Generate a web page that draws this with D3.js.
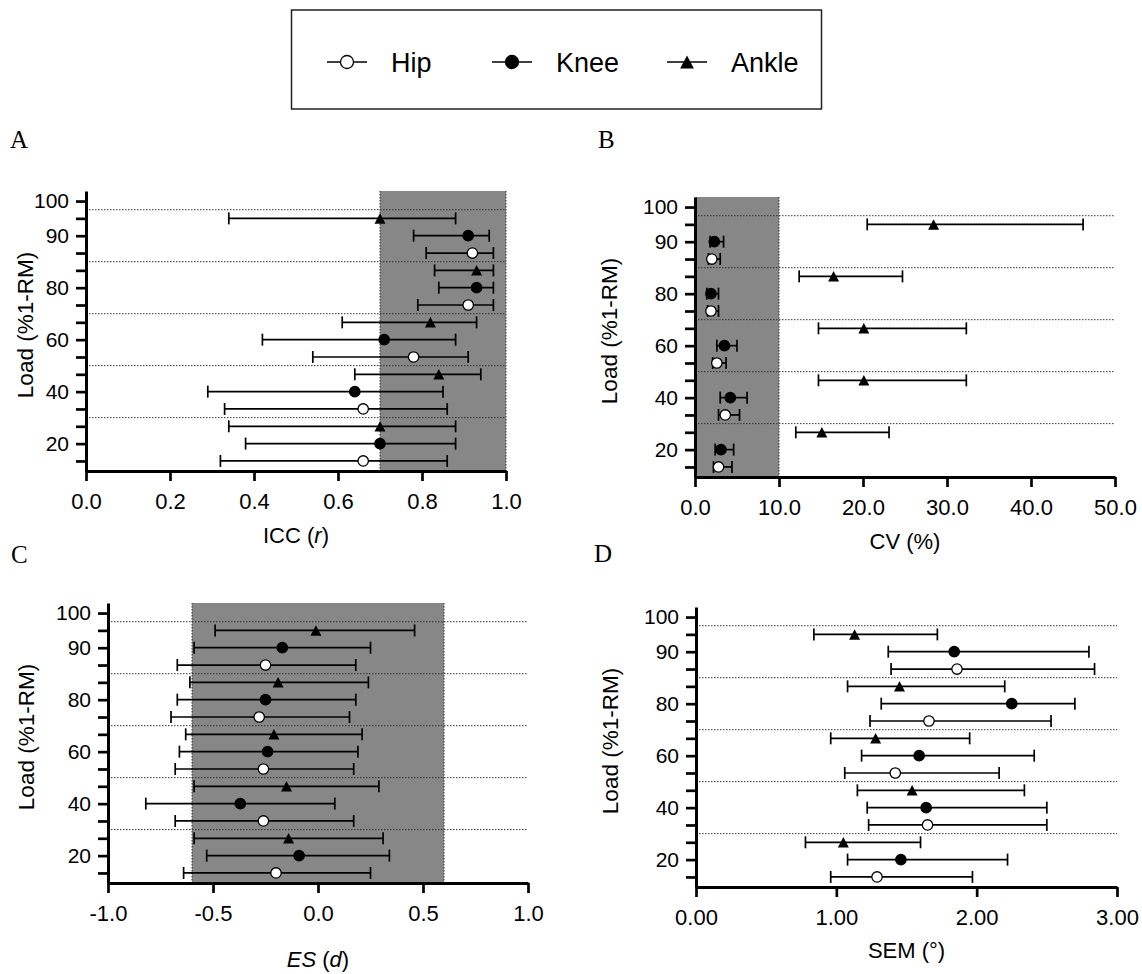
<!DOCTYPE html>
<html>
<head>
<meta charset="utf-8">
<script src="https://cdn.jsdelivr.net/npm/d3@7"></script>
<style>
  body { margin: 0; background: #fff; }
  svg { display: block; }
  text { font-family: "Liberation Sans", Arial, sans-serif; fill: #000; }
</style>
</head>
<body>
<script>
// load levels (%1-RM), top to bottom
var loads = [90, 80, 60, 40, 20];
var yLabels = ["100", "90", "80", "60", "40", "20"];
var joints = ["Hip", "Knee", "Ankle"];

// each entry: [value, lower, upper]
var iccAnkle = [[0.70,0.34,0.88],[0.93,0.83,0.97],[0.82,0.61,0.93],[0.84,0.64,0.94],[0.70,0.34,0.88]];
var iccKnee  = [[0.91,0.78,0.96],[0.93,0.84,0.97],[0.71,0.42,0.88],[0.64,0.29,0.85],[0.70,0.38,0.88]];
var iccHip   = [[0.92,0.81,0.97],[0.91,0.79,0.97],[0.78,0.54,0.91],[0.66,0.33,0.86],[0.66,0.32,0.86]];

var cvAnkle = [[28.4,20.5,46.2],[16.5,12.4,24.7],[20.1,14.7,32.3],[20.1,14.7,32.3],[15.1,12.0,23.1]];
var cvKnee  = [[2.3,1.8,3.4],[1.9,1.4,2.8],[3.5,2.6,5.0],[4.2,3.0,6.2],[3.1,2.4,4.6]];
var cvHip   = [[2.0,1.6,3.0],[1.9,1.5,2.8],[2.6,2.1,3.7],[3.6,2.8,5.3],[2.8,2.2,4.4]];

var esAnkle = [[-0.01,-0.49,0.46],[-0.19,-0.61,0.24],[-0.21,-0.63,0.21],[-0.15,-0.59,0.29],[-0.14,-0.59,0.31]];
var esKnee  = [[-0.17,-0.59,0.25],[-0.25,-0.67,0.18],[-0.24,-0.66,0.19],[-0.37,-0.82,0.08],[-0.09,-0.53,0.34]];
var esHip   = [[-0.25,-0.67,0.18],[-0.28,-0.70,0.15],[-0.26,-0.68,0.17],[-0.26,-0.68,0.17],[-0.20,-0.64,0.25]];

var semAnkle = [[1.13,0.84,1.72],[1.45,1.08,2.20],[1.28,0.96,1.95],[1.54,1.15,2.34],[1.05,0.78,1.60]];
var semKnee  = [[1.84,1.37,2.80],[2.25,1.32,2.70],[1.59,1.18,2.41],[1.64,1.22,2.50],[1.46,1.08,2.22]];
var semHip   = [[1.86,1.39,2.84],[1.66,1.24,2.53],[1.42,1.06,2.16],[1.65,1.23,2.50],[1.29,0.96,1.97]];

var svg = d3.select("body").append("svg")
  .attr("width", 1142)
  .attr("height", 974);

function drawMarker(g, joint, x, y, k) {
  k = k || 1;
  if (joint == "Ankle") {
    var w = 11 * k, h = 10.5 * k;
    g.append("path")
      .attr("d", "M0," + (-h / 2) + "L" + (w / 2) + "," + (h / 2) + "L" + (-w / 2) + "," + (h / 2) + "Z")
      .attr("transform", "translate(" + x + "," + y + ")")
      .style("fill", "#000");
  } else {
    g.append("circle")
      .attr("cx", x).attr("cy", y).attr("r", 5.2 * k)
      .style("fill", joint == "Hip" ? "#fff" : "#000")
      .style("stroke", "#000").style("stroke-width", 1.3);
  }
}

//LEGEND
var legend = svg.append("g");
legend.append("rect")
  .attr("x", 291.5).attr("y", 10).attr("width", 530).attr("height", 99)
  .style("fill", "none").style("stroke", "#222").style("stroke-width", 1.5);

var legendItems = [
  {name: "Hip", x: 327},
  {name: "Knee", x: 492},
  {name: "Ankle", x: 667}
];
legendItems.forEach(function(it){
  var g = legend.append("g").attr("transform", "translate(" + it.x + ",62)");
  g.append("line").attr("x1", 0).attr("x2", 40).attr("y1", 0).attr("y2", 0)
    .style("stroke", "#000").style("stroke-width", 1.5);
  drawMarker(g, it.name, 20, 0, 1.25);
  g.append("text").attr("x", 64).attr("y", 10)
    .style("font-size", "27px").text(it.name);
});

//PANELS
var panels = [
  {letter: "A", lx: 10, ly: 148, left: 86, top: 191, width: 420, ytx: 33,
   domain: [0, 1], ticks: [0, 0.2, 0.4, 0.6, 0.8, 1.0], digits: 1, shade: [0.7, 1.0],
   title: [["ICC (", false], ["r", true], [")", false]], titleY: 72,
   series: {Ankle: iccAnkle, Knee: iccKnee, Hip: iccHip}},
  {letter: "B", lx: 598, ly: 148, left: 695, top: 197, width: 420, ytx: 617,
   domain: [0, 50], ticks: [0, 10, 20, 30, 40, 50], digits: 1, shade: [0, 10],
   title: [["CV (%)", false]], titleY: 72,
   series: {Ankle: cvAnkle, Knee: cvKnee, Hip: cvHip}},
  {letter: "C", lx: 11, ly: 563, left: 108, top: 603, width: 420, ytx: 34,
   domain: [-1, 1], ticks: [-1, -0.5, 0, 0.5, 1], digits: 1, shade: [-0.6, 0.6],
   title: [["ES", true], [" (", false], ["d", true], [")", false]], titleY: 84,
   series: {Ankle: esAnkle, Knee: esKnee, Hip: esHip}},
  {letter: "D", lx: 594, ly: 562, left: 696, top: 607, width: 421, ytx: 618,
   domain: [0, 3], ticks: [0, 1, 2, 3], digits: 2, shade: null,
   title: [["SEM (°)", false]], titleY: 71,
   series: {Ankle: semAnkle, Knee: semKnee, Hip: semHip}}
];

var H = 280;

panels.forEach(function(p){
  svg.append("text")
    .attr("x", p.lx).attr("y", p.ly)
    .style("font-family", "'Liberation Serif', 'Times New Roman', serif")
    .style("font-size", "25px")
    .text(p.letter);

  var g = svg.append("g").attr("transform", "translate(" + p.left + "," + p.top + ")");

  var x = d3.scaleLinear().domain(p.domain).range([0, p.width]);
  // 16 rows: the "100" row, then ankle / knee / hip for each load
  var y = d3.scalePoint().domain(d3.range(16)).range([0, H]).padding(0.58);

  if (p.shade) {
    var x0 = x(p.shade[0]), x1 = x(p.shade[1]);
    g.append("rect")
      .attr("x", x0).attr("y", 0).attr("width", x1 - x0).attr("height", H)
      .style("fill", "#878787");
    [x0, x1].forEach(function(xx){
      if (xx > 0.5) {
        g.append("line").attr("x1", xx).attr("x2", xx).attr("y1", 0).attr("y2", H)
          .style("stroke", "#333").style("stroke-width", 1).style("stroke-dasharray", "1.5,1.5");
      }
    });
  }

  // dotted separators between load groups
  var sepRows = [0.5, 3.5, 6.5, 9.5, 12.5];
  g.selectAll("line.sep").data(sepRows).enter().append("line")
    .attr("class", "sep")
    .attr("x1", 0).attr("x2", p.width)
    .attr("y1", function(d){ return y(0) + d * y.step(); })
    .attr("y2", function(d){ return y(0) + d * y.step(); })
    .style("stroke", "#333").style("stroke-width", 1).style("stroke-dasharray", "1.5,1.5");

  // error bars and markers
  var offsets = {Ankle: 1, Knee: 2, Hip: 3};
  ["Hip", "Knee", "Ankle"].forEach(function(j){
    p.series[j].forEach(function(v, gi){
      var yy = y(gi * 3 + offsets[j]);
      var eb = g.append("g").style("stroke", "#000").style("stroke-width", 1.7);
      eb.append("line").attr("x1", x(v[1])).attr("x2", x(v[2])).attr("y1", yy).attr("y2", yy);
      eb.append("line").attr("x1", x(v[1])).attr("x2", x(v[1])).attr("y1", yy - 6).attr("y2", yy + 6);
      eb.append("line").attr("x1", x(v[2])).attr("x2", x(v[2])).attr("y1", yy - 6).attr("y2", yy + 6);
      drawMarker(g, j, x(v[0]), yy);
    });
  });

  // axes
  var xAxis = d3.axisBottom(x)
    .tickValues(p.ticks)
    .tickFormat(function(d){ return d.toFixed(p.digits); })
    .tickSize(10).tickSizeOuter(0).tickPadding(12);
  var xg = g.append("g").attr("transform", "translate(0," + H + ")").call(xAxis);

  var yAxis = d3.axisLeft(y)
    .tickFormat(function(d){
      if (d == 0) return yLabels[0];
      if ((d - 2) % 3 == 0) return yLabels[(d - 2) / 3 + 1];
      return "";
    })
    .tickSize(10).tickSizeOuter(0).tickPadding(7);
  var yg = g.append("g").call(yAxis);

  [xg, yg].forEach(function(a, i){
    a.selectAll("path").style("stroke", "#000").style("stroke-width", 3);
    a.selectAll("line").style("stroke", "#000").style("stroke-width", 2.7);
    a.selectAll("text")
      .style("font-family", "'Liberation Sans', Arial, sans-serif")
      .style("font-size", i == 0 ? "22px" : "21px").style("fill", "#000");
  });

  // axis titles
  var t = g.append("text")
    .attr("x", p.width / 2).attr("y", H + p.titleY)
    .attr("text-anchor", "middle")
    .style("font-size", "22px");
  p.title.forEach(function(part){
    t.append("tspan").text(part[0]).style("font-style", part[1] ? "italic" : "normal");
  });

  g.append("text")
    .attr("transform", "translate(" + (p.ytx - p.left) + "," + (H / 2 - 6) + ") rotate(-90)")
    .attr("text-anchor", "middle")
    .style("font-size", "22.5px")
    .text("Load (%1-RM)");
});
</script>
</body>
</html>
